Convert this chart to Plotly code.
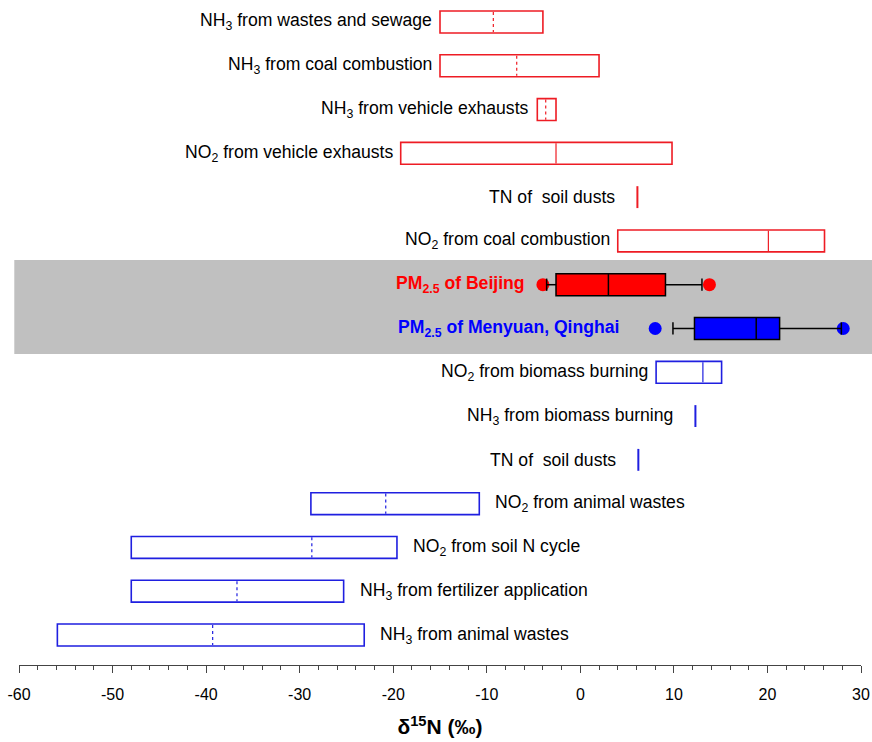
import plotly.graph_objects as go

# ---------------- data ----------------
# source ranges (delta15N, per mil); rows listed top -> bottom
red_labels = ["NH<sub>3</sub> from wastes and sewage", "NH<sub>3</sub> from coal combustion",
              "NH<sub>3</sub> from vehicle exhausts", "NO<sub>2</sub> from vehicle exhausts",
              "TN of  soil dusts", "NO<sub>2</sub> from coal combustion"]
red_lo = [-15.0, -15.0, -4.6, -19.2, 6.1, 4.0]
red_hi = [-4.0, 2.0, -2.6, 9.8, 6.1, 26.1]
red_med = [-9.3, -6.8, -3.7, -2.6, None, 20.1]
red_dotted = [True, True, True, False, False, False]

pm_labels = ["PM<sub>2.5</sub> of Beijing", "PM<sub>2.5</sub> of Menyuan, Qinghai"]
pm_min = [-4.0, 8.0]          # extreme points
pm_wlo = [-3.6, 9.9]          # lower whisker
pm_q1 = [-2.6, 12.2]
pm_med = [3.0, 18.8]
pm_q3 = [9.1, 21.3]
pm_whi = [13.0, 27.9]         # upper whisker
pm_max = [13.8, 28.1]

blue_labels = ["NO<sub>2</sub> from biomass burning", "NH<sub>3</sub> from biomass burning",
               "TN of  soil dusts", "NO<sub>2</sub> from animal wastes",
               "NO<sub>2</sub> from soil N cycle", "NH<sub>3</sub> from fertilizer application",
               "NH<sub>3</sub> from animal wastes"]
blue_lo = [8.1, 12.3, 6.2, -28.8, -48.0, -48.0, -55.9]
blue_hi = [15.1, 12.3, 6.2, -10.8, -19.6, -25.3, -23.1]
blue_med = [13.1, None, None, -20.8, -28.7, -36.7, -39.3]
blue_dotted = [False, False, False, True, True, True, True]

x_ticks = [-60, -50, -40, -30, -20, -10, 0, 10, 20, 30]

# ---------------- style ----------------
RED = "#ee1c24"
BLUE = "#1f1fe0"
FONT = "Arial, Liberation Sans, sans-serif"
LABEL_SIZE = 17.6
HALF = 0.25

fig = go.Figure()
annotations = []


def source_rows(labels, lo, hi, med, dotted, color, start, label_side):
    for k, lab in enumerate(labels):
        y = start + k
        if hi[k] - lo[k] > 0:
            fig.add_trace(go.Bar(orientation="h", y=[y], x=[hi[k] - lo[k]], base=[lo[k]],
                                 width=2 * HALF, marker=dict(color="white", line=dict(color=color, width=1.6)),
                                 hoverinfo="skip", showlegend=False))
        else:
            fig.add_trace(go.Scatter(x=[lo[k], lo[k]], y=[y - HALF, y + HALF], mode="lines",
                                     line=dict(color=color, width=2), hoverinfo="skip", showlegend=False))
        if med[k] is not None:
            fig.add_trace(go.Scatter(x=[med[k], med[k]], y=[y - HALF + 0.02, y + HALF - 0.02], mode="lines",
                                     line=dict(color=color, width=1.2, dash="dot" if dotted[k] else "solid"),
                                     hoverinfo="skip", showlegend=False))
        side = label_side[k]
        if side == "left":
            gap = 20 if lo[k] == hi[k] else 6
            annotations.append(dict(x=lo[k], y=y, xref="x", yref="y", text=lab, showarrow=False,
                                    xanchor="right", yanchor="middle", xshift=-gap,
                                    font=dict(family=FONT, size=LABEL_SIZE, color="black")))
        else:
            annotations.append(dict(x=hi[k], y=y, xref="x", yref="y", text=lab, showarrow=False,
                                    xanchor="left", yanchor="middle", xshift=14,
                                    font=dict(family=FONT, size=LABEL_SIZE, color="black")))


source_rows(red_labels, red_lo, red_hi, red_med, red_dotted, RED, 0, ["left"] * 6)

# PM2.5 boxes
pm_fill = ["#ff0000", "#0000ff"]
pm_text = ["#ff0000", "#0000ff"]
pm_shift = [-16, -34]
for k in range(2):
    y = 6 + k
    fig.add_trace(go.Scatter(x=[pm_min[k], pm_max[k]], y=[y, y], mode="markers",
                             marker=dict(color=pm_fill[k], size=13), hoverinfo="skip", showlegend=False))
    fig.add_trace(go.Bar(orientation="h", y=[y], x=[pm_q3[k] - pm_q1[k]], base=[pm_q1[k]], width=2 * HALF,
                         marker=dict(color=pm_fill[k], line=dict(color="black", width=1.5)),
                         hoverinfo="skip", showlegend=False))
    fig.add_trace(go.Scatter(x=[pm_wlo[k], pm_q1[k], None, pm_q3[k], pm_whi[k], None,
                                pm_wlo[k], pm_wlo[k], None, pm_whi[k], pm_whi[k], None,
                                pm_med[k], pm_med[k]],
                             y=[y, y, None, y, y, None,
                                y - 0.14, y + 0.14, None, y - 0.14, y + 0.14, None,
                                y - HALF, y + HALF],
                             mode="lines", line=dict(color="black", width=1.5),
                             hoverinfo="skip", showlegend=False))
    annotations.append(dict(x=pm_min[k], y=y, xref="x", yref="y", text="<b>" + pm_labels[k] + "</b>",
                            showarrow=False, xanchor="right", yanchor="middle", xshift=pm_shift[k],
                            font=dict(family=FONT, size=LABEL_SIZE, color=pm_text[k])))

source_rows(blue_labels, blue_lo, blue_hi, blue_med, blue_dotted, BLUE, 8,
            ["left", "left", "left", "right", "right", "right", "right"])

fig.add_shape(type="rect", xref="paper", yref="y", x0=-0.0056, x1=1.0134, y0=5.435, y1=7.58,
              fillcolor="#c0c0c0", line=dict(width=0), layer="below")

fig.update_layout(
    width=872, height=742,
    margin=dict(l=19, r=11, t=0, b=77),
    paper_bgcolor="white", plot_bgcolor="white",
    barmode="overlay",
    showlegend=False,
    annotations=annotations,
    font=dict(family=FONT, color="black"),
    xaxis=dict(range=[-60, 30], tickvals=x_ticks, ticktext=[str(v) for v in x_ticks],
               ticks="outside", ticklen=7, tickwidth=1, tickcolor="#444",
               minor=dict(dtick=2, ticks="outside", ticklen=4, tickcolor="#444", tickwidth=1),
               showline=True, linecolor="#444", linewidth=1, showgrid=False, zeroline=False,
               tickfont=dict(family=FONT, size=16, color="black"), ticklabelstandoff=8,
               title=dict(text="<b>δ<sup>15</sup>N (‰)</b>", font=dict(family=FONT, size=21, color="black"),
                          standoff=17)),
    yaxis=dict(range=[14.685, -0.502], visible=False, showgrid=False, zeroline=False),
)

fig.write_html("out.html", config={"displayModeBar": False},
               post_script="document.body.style.margin='0';document.body.style.overflow='hidden';")
